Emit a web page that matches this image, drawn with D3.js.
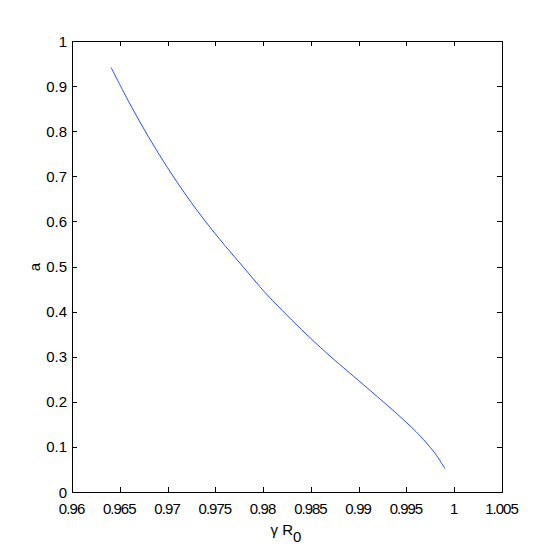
<!DOCTYPE html>
<html>
<head>
<meta charset="utf-8">
<script src="https://cdn.jsdelivr.net/npm/d3@7"></script>
<style>
  body { margin: 0; background: #fff; }
  text { font-family: "Liberation Sans", Arial, sans-serif; font-size: 15px; fill: #000; }
</style>
</head>
<body>
<svg id="chart" width="554" height="554"></svg>
<script>
var gammaR0 = [0.96408, 0.966, 0.968, 0.970, 0.972, 0.974, 0.976, 0.978, 0.980,
               0.982, 0.984, 0.986, 0.988, 0.990, 0.992, 0.994, 0.996, 0.997, 0.998, 0.99903]
var aValues = [0.9417, 0.8630, 0.7875, 0.7190, 0.6560, 0.5990, 0.5465, 0.4970, 0.4470,
               0.4025, 0.3605, 0.3205, 0.2830, 0.2470, 0.2105, 0.1735, 0.1340, 0.1110, 0.0855, 0.052]

var xTicks = [0.96, 0.965, 0.97, 0.975, 0.98, 0.985, 0.99, 0.995, 1, 1.005]
var yTicks = [0, 0.1, 0.2, 0.3, 0.4, 0.5, 0.6, 0.7, 0.8, 0.9, 1]

var svg = d3.select("svg#chart")
var plotLeft = 72, plotRight = 502, plotTop = 41, plotBottom = 492

var x = d3.scaleLinear().domain([0.96, 1.005]).range([plotLeft, plotRight])
var y = d3.scaleLinear().domain([0, 1]).range([plotBottom, plotTop])

var fmt = function(d) { return String(+d.toFixed(3)) }

// box
svg.append("rect")
    .attr("x", plotLeft + 0.5).attr("y", plotTop + 0.5)
    .attr("width", plotRight - plotLeft).attr("height", plotBottom - plotTop)
    .attr("fill", "none").attr("stroke", "#000").attr("stroke-width", 1)

var g = svg.append("g").attr("stroke", "#000").attr("stroke-width", 1)

// inward ticks on all four sides
xTicks.forEach(function(d) {
    var px = Math.round(x(d)) + 0.5
    g.append("line").attr("x1", px).attr("x2", px).attr("y1", plotBottom).attr("y2", plotBottom - 5)
    g.append("line").attr("x1", px).attr("x2", px).attr("y1", plotTop).attr("y2", plotTop + 5)
})
yTicks.forEach(function(d) {
    var py = Math.round(y(d)) + 0.5
    g.append("line").attr("x1", plotLeft).attr("x2", plotLeft + 5).attr("y1", py).attr("y2", py)
    g.append("line").attr("x1", plotRight).attr("x2", plotRight - 5).attr("y1", py).attr("y2", py)
})

svg.append("g").selectAll("text").data(xTicks).enter().append("text")
    .attr("x", function(d) { return x(d) })
    .attr("y", plotBottom + 22)
    .attr("text-anchor", "middle")
    .attr("textLength", function(d) { return fmt(d).length * 6.9 - 1 })
    .text(fmt)

svg.append("g").selectAll("text").data(yTicks).enter().append("text")
    .attr("x", plotLeft - 5)
    .attr("y", function(d) { return y(d) + 5.5 })
    .attr("text-anchor", "end")
    .text(fmt)

// curve
var line = d3.line()
    .x(function(d, i) { return x(gammaR0[i]) })
    .y(function(d, i) { return y(aValues[i]) })
    .curve(d3.curveCatmullRom.alpha(0.5))

svg.append("path")
    .datum(aValues)
    .attr("d", line)
    .attr("fill", "none")
    .attr("stroke", "#2a4dff")
    .attr("stroke-width", 1)

// axis labels
svg.append("text")
    .attr("transform", "translate(40,267) rotate(-90)")
    .attr("text-anchor", "middle")
    .text("a")

var xl = svg.append("text")
    .attr("x", 286).attr("y", 535)
    .attr("text-anchor", "middle")
xl.append("tspan").text("γ R")
xl.append("tspan").attr("dy", 7).text("0")
</script>
</body>
</html>
